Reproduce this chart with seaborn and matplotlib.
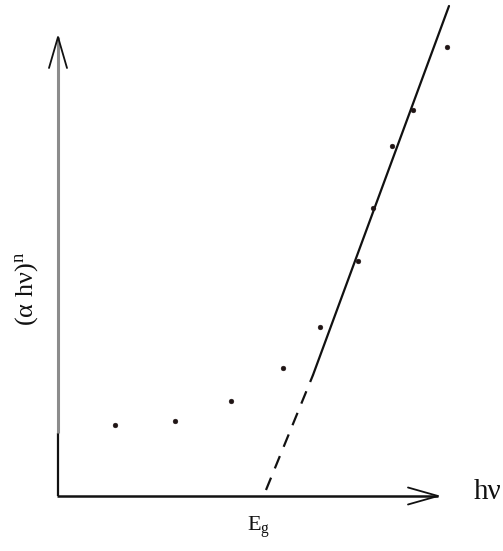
import matplotlib
matplotlib.use("Agg")
import matplotlib.pyplot as plt
import seaborn as sns
import pandas as pd

# ---- data (arbitrary units, read from the schematic) ----
hv = [0.57, 1.17, 1.73, 2.25, 2.62, 3.00, 3.15, 3.34, 3.55, 3.89]
ahv_n = [0.71, 0.75, 0.95, 1.28, 1.69, 2.35, 2.88, 3.50, 3.86, 4.49]
fit_solid_x = [2.55, 3.91]
fit_solid_y = [1.21, 4.90]
fit_dash_x = [2.08, 2.55]
fit_dash_y = [0.06, 1.21]
eg_x = 2.01
xaxis_end = 3.80
yaxis_end = 4.59
ylabel_text = r"(α hν)$^{\mathrm{n}}$"
xlabel_text = "hν"
eg_text = r"$\mathrm{E_g}$"

sns.set_style("white")
plt.rcParams["font.family"] = ["Liberation Serif", "DejaVu Serif"]
plt.rcParams["mathtext.fontset"] = "custom"
plt.rcParams["mathtext.rm"] = "Liberation Serif"
plt.rcParams["mathtext.it"] = "Liberation Serif:italic"

fig = plt.figure(figsize=(5.03, 5.51), dpi=100)
ax = fig.add_axes([0, 0, 1, 1])
ax.set_xlim(-0.58, 4.45)
ax.set_ylim(-0.55, 4.96)
ax.set_axis_off()

pts = pd.DataFrame({"hv": hv, "y": ahv_n})
sns.scatterplot(data=pts, x="hv", y="y", ax=ax, s=12, color="#1f1414",
                edgecolor="#1f1414", linewidth=0.3, zorder=4)

solid = pd.DataFrame({"x": fit_solid_x, "y": fit_solid_y})
dash = pd.DataFrame({"x": fit_dash_x, "y": fit_dash_y})
sns.lineplot(data=solid, x="x", y="y", ax=ax, color="#111111", lw=1.6,
             estimator=None, sort=False)
sns.lineplot(data=dash, x="x", y="y", ax=ax, color="#111111", lw=1.6,
             estimator=None, sort=False, dashes=False, linestyle=(0, (6, 4.5)))

# axes drawn as arrows
ax.plot([0, 0], [0, 0.63], color="#111111", lw=1.6, solid_capstyle="butt")
ax.plot([0, 0], [0.63, yaxis_end], color="#8c8c8c", lw=2.2, solid_capstyle="butt")
ax.plot([-0.09, 0, 0.09], [yaxis_end - 0.31, yaxis_end, yaxis_end - 0.31],
        color="#111111", lw=1.3)
ax.plot([-0.01, xaxis_end], [0, 0], color="#111111", lw=1.8, solid_capstyle="butt")
ax.plot([xaxis_end - 0.30, xaxis_end, xaxis_end - 0.30], [0.085, 0, -0.085],
        color="#111111", lw=1.3)

ax.text(4.30, 0.04, xlabel_text, fontsize=21, ha="center", va="center",
        color="#111111")
ax.text(-0.31, 2.07, ylabel_text, fontsize=19, rotation=90, ha="center",
        va="center", color="#111111")
ax.text(eg_x, -0.31, eg_text, fontsize=16, ha="center", va="center",
        color="#111111")

fig.savefig("out.png", dpi=100)
